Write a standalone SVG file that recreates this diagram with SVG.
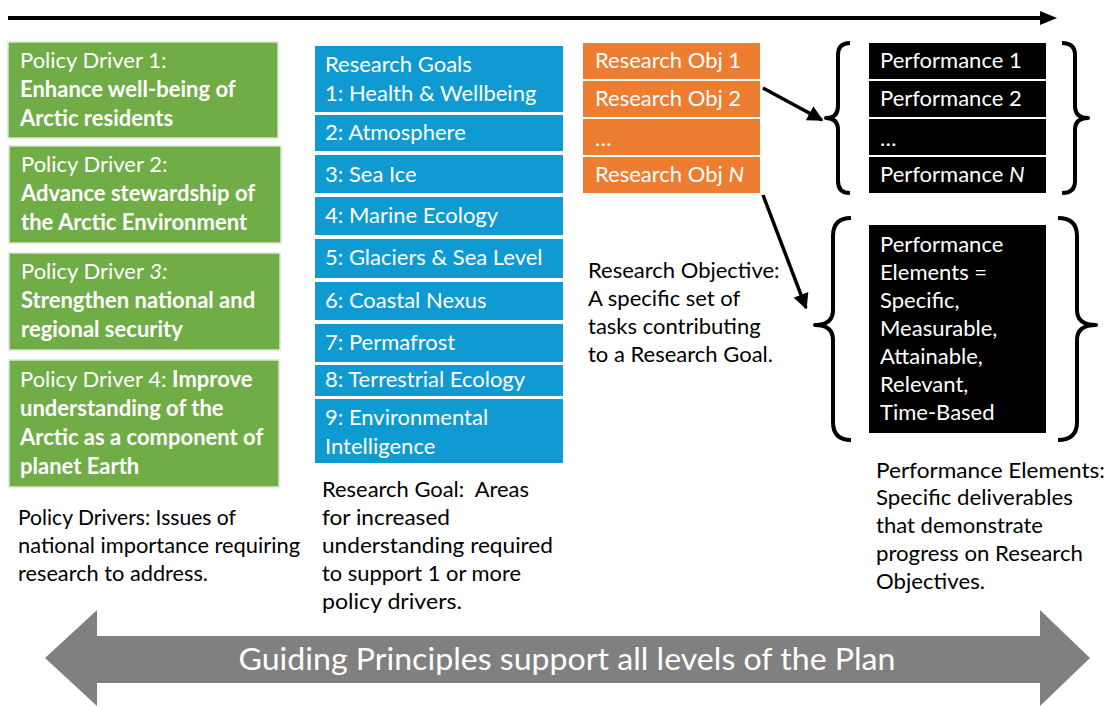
<svg xmlns="http://www.w3.org/2000/svg" width="1107" height="706" viewBox="0 0 1107 706">
<defs>
<style>
text{font-family:Lato,"Open Sans","Liberation Sans",sans-serif;}
.w{fill:#fff;font-size:22px;}
.b{font-weight:bold;}
.k{fill:#000;font-size:22px;}
.g{fill:#70AD47;stroke:#d8e6cf;stroke-width:1.5;}
.bl{fill:#0F9BD2;}
.or{fill:#ED7D31;}
.bk{fill:#000;}
.br{fill:none;stroke:#000;stroke-width:4;stroke-linejoin:round;}
.ln{stroke:#000;stroke-width:3.5;fill:none;}
</style>
<marker id="ah" viewBox="0 0 10 10" refX="9" refY="5" markerWidth="4.5" markerHeight="4.5" orient="auto" markerUnits="strokeWidth">
<path d="M0,0 L10,5 L0,10 z" fill="#000"/>
</marker>
</defs>
<rect width="1107" height="706" fill="#fff"/>

<g id="timeline">
<line x1="8" y1="18" x2="1042" y2="18" stroke="#000" stroke-width="4"/>
<polygon points="1040,11 1057,18 1040,25" fill="#000"/>
</g>

<g id="pd1"><rect class="g" x="8" y="42" width="270" height="96"/>
<text class="w" x="20" y="68">Policy Driver 1:</text>
<text class="w b" x="20" y="97">Enhance well-being of</text>
<text class="w b" x="20" y="126">Arctic residents</text></g>
<g id="pd2"><rect class="g" x="9" y="146" width="272" height="97"/>
<text class="w" x="21" y="172">Policy Driver 2:</text>
<text class="w b" x="21" y="201">Advance stewardship of</text>
<text class="w b" x="21" y="230">the Arctic Environment</text></g>
<g id="pd3"><rect class="g" x="9" y="253" width="271" height="97"/>
<text class="w" x="21" y="279">Policy Driver <tspan font-style="italic">3:</tspan></text>
<text class="w b" x="21" y="308">Strengthen national and</text>
<text class="w b" x="21" y="337">regional security</text></g>
<g id="pd4"><rect class="g" x="9" y="360" width="270" height="127"/>
<text class="w" x="20" y="387">Policy Driver 4: <tspan class="b">Improve</tspan></text>
<text class="w b" x="20" y="416">understanding of the</text>
<text class="w b" x="20" y="445">Arctic as a component of</text>
<text class="w b" x="20" y="474">planet Earth</text></g>

<g id="rg1"><rect class="bl" x="315" y="46" width="248" height="66"/>
<text class="w" x="325" y="72">Research Goals</text>
<text class="w" x="325" y="101">1: Health &amp; Wellbeing</text></g>
<g id="rg2"><rect class="bl" x="315" y="115" width="248" height="36"/>
<text class="w" x="325" y="140">2: Atmosphere</text></g>
<g id="rg3"><rect class="bl" x="315" y="155" width="248" height="38"/>
<text class="w" x="325" y="182">3: Sea Ice</text></g>
<g id="rg4"><rect class="bl" x="315" y="197" width="248" height="38"/>
<text class="w" x="325" y="223">4: Marine Ecology</text></g>
<g id="rg5"><rect class="bl" x="315" y="239" width="248" height="39"/>
<text class="w" x="325" y="265">5: Glaciers &amp; Sea Level</text></g>
<g id="rg6"><rect class="bl" x="315" y="282" width="248" height="38"/>
<text class="w" x="325" y="308">6: Coastal Nexus</text></g>
<g id="rg7"><rect class="bl" x="315" y="324" width="248" height="38"/>
<text class="w" x="325" y="350">7: Permafrost</text></g>
<g id="rg8"><rect class="bl" x="315" y="365" width="248" height="31"/>
<text class="w" x="325" y="387">8: Terrestrial Ecology</text></g>
<g id="rg9"><rect class="bl" x="315" y="399" width="248" height="64"/>
<text class="w" x="325" y="425">9: Environmental</text>
<text class="w" x="325" y="454">Intelligence</text></g>

<g id="ro1"><rect class="or" x="583" y="43" width="177" height="36"/>
<text class="w" x="595" y="68">Research Obj 1</text></g>
<g id="ro2"><rect class="or" x="583" y="81" width="177" height="36"/>
<text class="w" x="595" y="106">Research Obj 2</text></g>
<g id="ro3"><rect class="or" x="583" y="119" width="177" height="36"/>
<text class="w" x="595" y="146">…</text></g>
<g id="ro4"><rect class="or" x="583" y="157" width="177" height="36"/>
<text class="w" x="595" y="182">Research Obj <tspan font-style="italic">N</tspan></text></g>

<g id="pe1"><rect class="bk" x="869" y="43" width="177" height="36"/>
<text class="w" x="880" y="68">Performance 1</text></g>
<g id="pe2"><rect class="bk" x="869" y="81" width="177" height="36"/>
<text class="w" x="880" y="106">Performance 2</text></g>
<g id="pe3"><rect class="bk" x="869" y="119" width="177" height="36"/>
<text class="w" x="880" y="146">…</text></g>
<g id="pe4"><rect class="bk" x="869" y="157" width="177" height="36"/>
<text class="w" x="880" y="182">Performance <tspan font-style="italic">N</tspan></text></g>
<g id="pe5"><rect class="bk" x="869" y="225" width="177" height="208"/>
<text class="w" x="880" y="252">Performance</text>
<text class="w" x="880" y="280">Elements =</text>
<text class="w" x="880" y="308">Specific,</text>
<text class="w" x="880" y="336">Measurable,</text>
<text class="w" x="880" y="364">Attainable,</text>
<text class="w" x="880" y="392">Relevant,</text>
<text class="w" x="880" y="420">Time-Based</text></g>

<g id="braces">
<path class="br" d="M850,43 Q838,43 838,55 L838,106 Q838,118 826,118 Q838,118 838,130 L838,181 Q838,193 850,193"/>
<path class="br" d="M1062,43 Q1075,43 1075,55 L1075,106 Q1075,118 1088,118 Q1075,118 1075,130 L1075,181 Q1075,193 1062,193"/>
<path class="br" d="M851,218 Q833,218 833,236 L833,310 Q833,325 815,325 Q833,325 833,340 L833,422 Q833,440 851,440"/>
<path class="br" d="M1058,218 Q1077,218 1077,236 L1077,310 Q1077,325 1096,325 Q1077,325 1077,340 L1077,422 Q1077,440 1058,440"/>
</g>

<g id="connectors">
<line class="ln" x1="763" y1="88" x2="822" y2="120" marker-end="url(#ah)"/>
<line class="ln" x1="763" y1="195" x2="806" y2="308" marker-end="url(#ah)"/>
</g>

<g id="captions">
<text class="k" x="588" y="278">Research Objective:</text>
<text class="k" x="588" y="306">A specific set of</text>
<text class="k" x="588" y="334">tasks contributing</text>
<text class="k" x="588" y="362">to a Research Goal.</text>
<text class="k" x="18" y="525" textLength="218" lengthAdjust="spacingAndGlyphs">Policy Drivers: Issues of</text>
<text class="k" x="18" y="553" textLength="282" lengthAdjust="spacingAndGlyphs">national importance requiring</text>
<text class="k" x="18" y="581" textLength="190" lengthAdjust="spacingAndGlyphs">research to address.</text>
<text class="k" x="322" y="497" textLength="207" lengthAdjust="spacingAndGlyphs" xml:space="preserve">Research Goal:  Areas</text>
<text class="k" x="322" y="525" textLength="128" lengthAdjust="spacingAndGlyphs">for increased</text>
<text class="k" x="322" y="553" textLength="231" lengthAdjust="spacingAndGlyphs">understanding required</text>
<text class="k" x="322" y="581" textLength="199" lengthAdjust="spacingAndGlyphs">to support 1 or more</text>
<text class="k" x="322" y="609" textLength="140" lengthAdjust="spacingAndGlyphs">policy drivers.</text>
<text class="k" x="876" y="478" textLength="229" lengthAdjust="spacingAndGlyphs">Performance Elements:</text>
<text class="k" x="876" y="505" textLength="197" lengthAdjust="spacingAndGlyphs">Specific deliverables</text>
<text class="k" x="876" y="533" textLength="167" lengthAdjust="spacingAndGlyphs">that demonstrate</text>
<text class="k" x="876" y="561" textLength="207" lengthAdjust="spacingAndGlyphs">progress on Research</text>
<text class="k" x="876" y="589" textLength="109" lengthAdjust="spacingAndGlyphs">Objectives.</text>
</g>

<g id="guiding">
<polygon points="45,658 97,610 97,636 1040,636 1040,610 1090,658 1040,706 1040,683 97,683 97,706" fill="#808080"/>
<text x="567" y="670" text-anchor="middle" fill="#fff" font-size="30" textLength="657" lengthAdjust="spacingAndGlyphs">Guiding Principles support all levels of the Plan</text>
</g>
</svg>
